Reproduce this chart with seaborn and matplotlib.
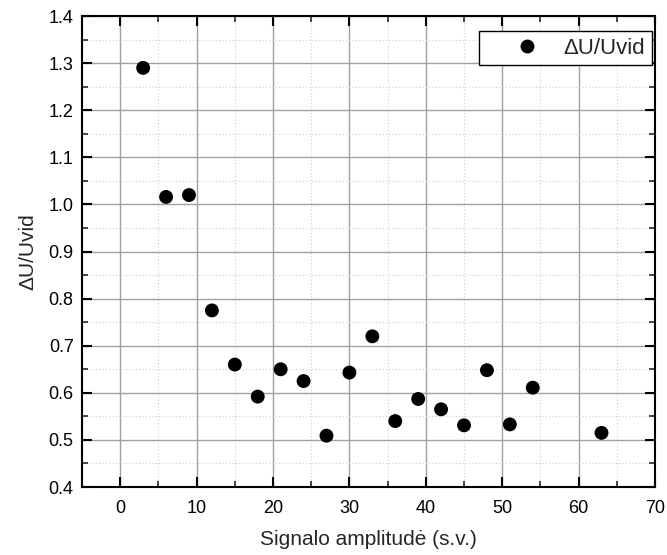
import matplotlib
matplotlib.use("Agg")
import matplotlib.pyplot as plt
import seaborn as sns
import pandas as pd
from matplotlib.ticker import MultipleLocator

x_vals = [3, 6, 9, 12, 15, 18, 21, 24, 27, 30, 33, 36, 39, 42, 45, 48, 51, 54, 63]
y_vals = [1.29, 1.016, 1.02, 0.775, 0.66, 0.592, 0.65, 0.625, 0.509, 0.643,
          0.72, 0.54, 0.587, 0.565, 0.531, 0.648, 0.533, 0.611, 0.515]
series_name = "\u0394U/Uvid"

df = pd.DataFrame({"x": x_vals, "y": y_vals, "s": series_name})

sns.set_theme(style="white")
plt.rcParams['font.family'] = ['Liberation Sans', 'DejaVu Sans']

fig = plt.figure(figsize=(6.67, 5.55), dpi=100)
ax = fig.add_axes([0.123, 0.1225, 0.859, 0.8485])

sns.scatterplot(data=df, x="x", y="y", hue="s", palette=["black"], s=100,
                edgecolor="black", linewidth=0, ax=ax, zorder=3)

ax.set_xlim(-5, 70)
ax.set_ylim(0.4, 1.4)
ax.xaxis.set_major_locator(MultipleLocator(10))
ax.xaxis.set_minor_locator(MultipleLocator(5))
ax.yaxis.set_major_locator(MultipleLocator(0.1))
ax.yaxis.set_minor_locator(MultipleLocator(0.05))
ax.yaxis.set_major_formatter(matplotlib.ticker.FormatStrFormatter('%.1f'))

ax.grid(which='major', color='#a0a0a0', linewidth=1.0, linestyle='-')
ax.grid(which='minor', color='#cccccc', linewidth=0.8, linestyle=(0, (1, 2)))
ax.set_axisbelow(True)

for sp in ax.spines.values():
    sp.set_color('black')
    sp.set_linewidth(1.5)

ax.tick_params(which='major', direction='in', length=7, width=1.5,
               top=True, right=True, bottom=True, left=True, labelsize=13, colors='black')
ax.tick_params(which='minor', direction='in', length=4, width=1.2,
               top=True, right=True, bottom=True, left=True)
ax.tick_params(axis='x', pad=9)
ax.tick_params(axis='y', pad=6)

ax.set_xlabel("Signalo amplitud\u0117 (s.v.)", fontsize=15, labelpad=10)
ax.set_ylabel("\u0394U/Uvid", fontsize=15, labelpad=8)

leg = ax.legend(loc='upper right', bbox_to_anchor=(0.995, 0.968), fontsize=16,
                frameon=True, fancybox=False, edgecolor='black', framealpha=1,
                borderaxespad=0, handlelength=3.64, handletextpad=-0.14,
                borderpad=0.3, markerscale=1.0)
leg.get_frame().set_linewidth(1.0)

fig.savefig("out.png", dpi=100)
